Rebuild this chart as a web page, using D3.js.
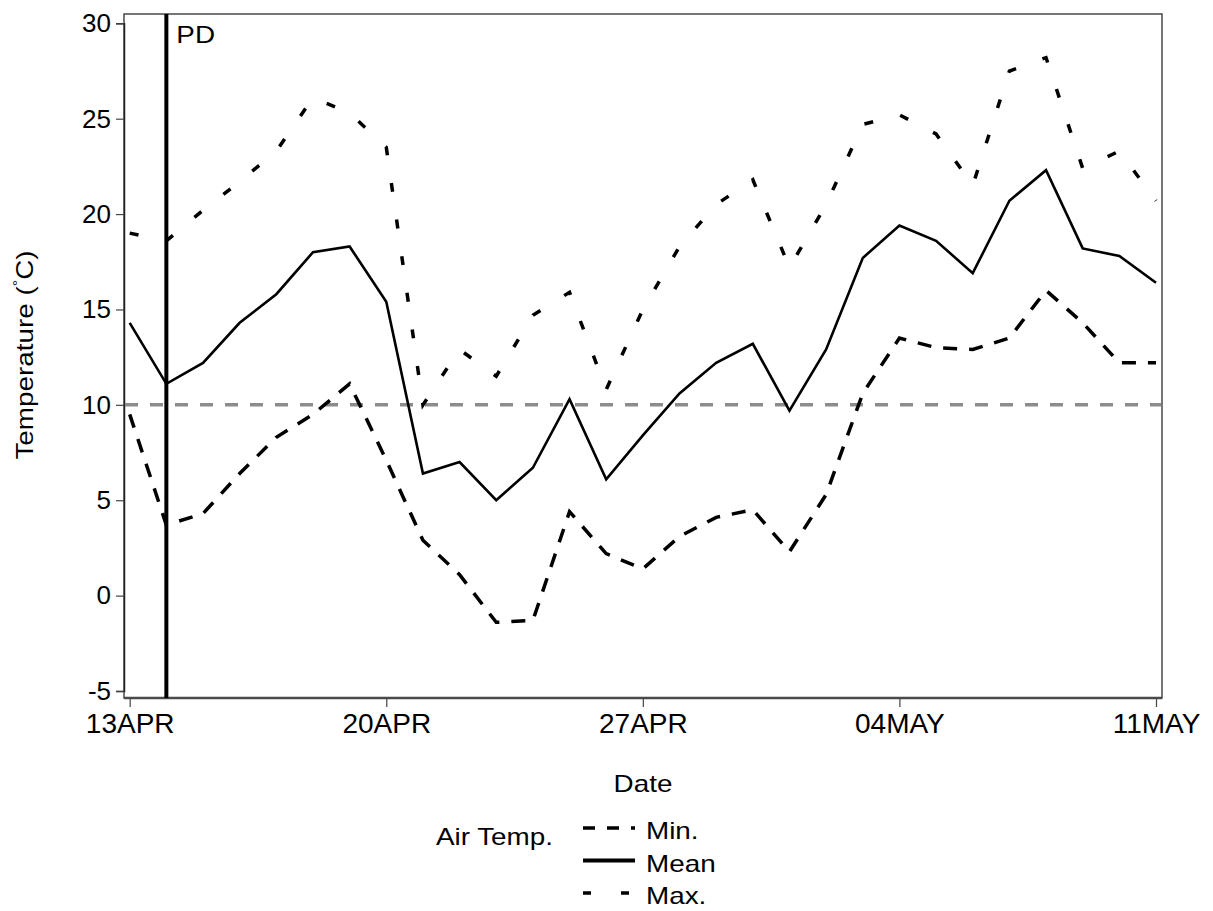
<!DOCTYPE html>
<html>
<head>
<meta charset="utf-8">
<script src="https://cdn.jsdelivr.net/npm/d3@7"></script>
<style>
  body { margin: 0; background: #fff; }
  text { font-family: "Liberation Sans", Arial, sans-serif; fill: #000; }
</style>
</head>
<body>
<div id="vis-holder"></div>
<script>
// Daily air temperature, 13 Apr - 11 May
const dates = ["04-13","04-14","04-15","04-16","04-17","04-18","04-19","04-20","04-21","04-22",
               "04-23","04-24","04-25","04-26","04-27","04-28","04-29","04-30","05-01","05-02",
               "05-03","05-04","05-05","05-06","05-07","05-08","05-09","05-10","05-11"];
const minTemp  = [9.5, 3.7, 4.3, 6.4, 8.3, 9.5, 11.1, 7.1, 2.9, 1.1,
                  -1.4, -1.3, 4.4, 2.2, 1.4, 3.1, 4.1, 4.5, 2.3, 5.3,
                  10.6, 13.5, 13.0, 12.9, 13.5, 16.0, 14.3, 12.2, 12.2];
const meanTemp = [14.3, 11.1, 12.2, 14.3, 15.8, 18.0, 18.3, 15.4, 6.4, 7.0,
                  5.0, 6.7, 10.3, 6.1, 8.4, 10.6, 12.2, 13.2, 9.7, 12.9,
                  17.7, 19.4, 18.6, 16.9, 20.7, 22.3, 18.2, 17.8, 16.4];
const maxTemp  = [19.0, 18.6, 20.2, 21.7, 23.3, 26.1, 25.3, 23.5, 10.0, 12.9,
                  11.5, 14.7, 15.9, 10.8, 15.0, 18.3, 20.5, 21.8, 17.2, 20.5,
                  24.7, 25.2, 24.2, 21.5, 27.5, 28.2, 22.4, 23.3, 20.7];
const yTicks = [-5, 0, 5, 10, 15, 20, 25, 30];
const xTickDates = ["04-13","04-20","04-27","05-04","05-11"];
const plantingDate = "04-14";
const threshold = 10;

const width = 1213, height = 911;
const frame = { left: 124, right: 1162, top: 14, bottom: 698 };
const stretch = 1.16; // the original text is a little wider than Arial
const parse = (s) => new Date(2000, +s.slice(0, 2) - 1, +s.slice(3));
const fmt = d3.timeFormat("%d%b");

const svg = d3.select("#vis-holder")
              .append("svg")
              .attr("width", width)
              .attr("height", height);

const x = d3.scaleTime()
            .domain([parse("04-13"), parse("05-11")])
            .range([129.7, 1156]);

const y = d3.scaleLinear()
            .domain([-5, 30])
            .range([691, 23.3]);

// helper for the stretched labels
function label(tx, ty, str, anchor, rot) {
  return svg.append("text")
            .attr("transform", `translate(${tx},${ty})` + (rot ? ` rotate(${rot})` : "") + ` scale(${stretch},1)`)
            .attr("text-anchor", anchor || "start")
            .attr("font-size", "24px")
            .text(str);
}

// frame
svg.append("rect")
   .attr("x", frame.left).attr("y", frame.top)
   .attr("width", frame.right - frame.left)
   .attr("height", frame.bottom - frame.top)
   .attr("fill", "none")
   .attr("stroke", "#4a4a4a")
   .attr("stroke-width", 1.5);

// y axis
svg.append("g")
   .attr("transform", `translate(${frame.left},0)`)
   .call(d3.axisLeft(y).tickValues(yTicks).tickFormat((d) => String(d)).tickSize(8).tickPadding(5))
   .call((g) => g.select(".domain").attr("stroke", "#222").attr("stroke-width", 1.5))
   .call((g) => g.selectAll(".tick line").attr("stroke", "#444").attr("stroke-width", 1.2))
   .call((g) => g.selectAll(".tick text")
                 .attr("font-size", "26px")
                 .attr("font-family", "Liberation Sans, Arial, sans-serif")
                 .attr("fill", "#000"));

// x axis
svg.append("g")
   .attr("transform", `translate(0,${frame.bottom})`)
   .call(d3.axisBottom(x).tickValues(xTickDates.map(parse)).tickFormat((d) => fmt(d).toUpperCase())
            .tickSize(9).tickPadding(6))
   .call((g) => g.select(".domain").remove())
   .call((g) => g.selectAll(".tick line").attr("stroke", "#444").attr("stroke-width", 1.2))
   .call((g) => g.selectAll(".tick text")
                 .attr("font-size", "28px")
                 .attr("font-family", "Liberation Sans, Arial, sans-serif")
                 .attr("fill", "#000"));

svg.append("line")
   .attr("x1", frame.left).attr("x2", frame.right)
   .attr("y1", frame.bottom).attr("y2", frame.bottom)
   .attr("stroke", "#4a4a4a").attr("stroke-width", 2.5);

// threshold reference line
svg.append("line")
   .attr("x1", frame.left + 1).attr("x2", frame.right - 1)
   .attr("y1", y(threshold)).attr("y2", y(threshold))
   .attr("stroke", "#8c8c8c")
   .attr("stroke-width", 3.5)
   .attr("stroke-dasharray", "13,12");

// series
const series = [
  { name: "Min.",  values: minTemp,  dash: "14,12", legendDash: "12,12", sw: 3.5 },
  { name: "Mean",  values: meanTemp, dash: null,    legendDash: null,    sw: 2.6 },
  { name: "Max.",  values: maxTemp,  dash: "9,28",  legendDash: "8,30",  sw: 3.5 }
];

const line = d3.line()
               .x((d) => x(d.date))
               .y((d) => y(d.v));

series.forEach((s) => {
  svg.append("path")
     .datum(dates.map((d, i) => ({ date: parse(d), v: s.values[i] })))
     .attr("d", line)
     .attr("fill", "none")
     .attr("stroke", "#000")
     .attr("stroke-width", s.sw)
     .attr("stroke-linejoin", "miter")
     .attr("stroke-dasharray", s.dash);
});

// planting date
svg.append("line")
   .attr("x1", x(parse(plantingDate))).attr("x2", x(parse(plantingDate)))
   .attr("y1", frame.top).attr("y2", frame.bottom)
   .attr("stroke", "#000").attr("stroke-width", 4);

label(x(parse(plantingDate)) + 10, 43, "PD");

// axis titles
label(643, 792, "Date", "middle");

const yl = svg.append("text")
   .attr("transform", `translate(33,355) rotate(-90) scale(${stretch},1)`)
   .attr("text-anchor", "middle")
   .attr("font-size", "24px");
yl.append("tspan").text("Temperature (");
yl.append("tspan").attr("font-size", "14px").attr("dy", -10).text("°");
yl.append("tspan").attr("dy", 10).text("C)");

// legend
label(553, 845, "Air Temp.", "end");

series.forEach((s, i) => {
  const by = 839 + i * 32.5;
  svg.append("line")
     .attr("x1", 583).attr("x2", 635)
     .attr("y1", by - 11).attr("y2", by - 11)
     .attr("stroke", "#000")
     .attr("stroke-width", s.legendDash ? 3.5 : 4)
     .attr("stroke-dasharray", s.legendDash);
  label(646, by, s.name);
});
</script>
</body>
</html>
